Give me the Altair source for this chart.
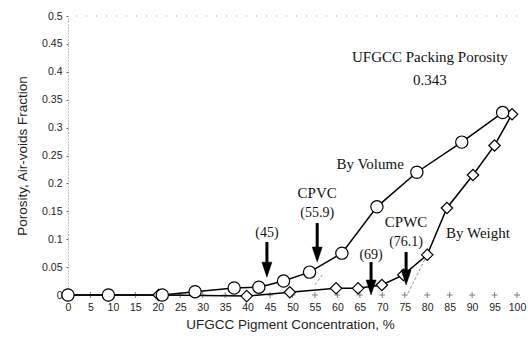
import altair as alt
import pandas as pd

# By Volume (circles)
vol_x = [0, 9, 21, 28.3, 37, 42.5, 48, 53.8, 61, 68.8, 77.7, 87.7, 96.8]
vol_y = [0, 0, 0, 0.006, 0.0125, 0.014, 0.025, 0.041, 0.075, 0.158, 0.22, 0.274, 0.327]
# By Weight (diamonds)
wt_x = [0, 9, 20.2, 39.8, 49.4, 59.7, 64.6, 69.9, 74.7, 80, 84.4, 90.2, 95, 98.9]
wt_y = [0, 0, 0, -0.002, 0.005, 0.012, 0.012, 0.018, 0.036, 0.072, 0.156, 0.215, 0.268, 0.324]

# arrows
arrow_x = [44.3, 55.5, 67.5, 75.3]
arrow_top = [0.095, 0.129, 0.059, 0.077]
arrow_tip = [0.032, 0.059, 0.0, 0.018]

# annotations
ann_text = ["UFGCC Packing Porosity", "0.343", "By Volume", "By Weight", "CPVC", "(55.9)",
            "(45)", "(69)", "CPWC", "(76.1)"]
ann_x = [80.6, 80.6, 67.3, 91.3, 55.5, 55.5, 44.3, 67.5, 75.3, 75.3]
ann_y = [0.4265, 0.385, 0.235, 0.111, 0.182, 0.147, 0.111, 0.072, 0.131, 0.095]
ann_size = [15, 15, 15, 15, 15, 14, 14, 14, 15, 14]

# faint tangent segments
tan_seg = ["a", "a", "b", "b"]
tan_x = [55, 56.6, 75.7, 80]
tan_y = [0.018, 0.036, 0.003, 0.072]

x_ticks = list(range(0, 101, 5))
y_ticks = [0, 0.05, 0.1, 0.15, 0.2, 0.25, 0.3, 0.35, 0.4, 0.45, 0.5]

vol = pd.DataFrame({"x": vol_x, "y": vol_y})
wt = pd.DataFrame({"x": wt_x, "y": wt_y})
arr = pd.DataFrame({"x": arrow_x, "top": arrow_top, "tip": arrow_tip})
arr["base"] = arr["tip"] + 0.022
ann = pd.DataFrame({"t": ann_text, "x": ann_x, "y": ann_y, "s": ann_size})
tan = pd.DataFrame({"seg": tan_seg, "x": tan_x, "y": tan_y})
ticks = pd.DataFrame({"x": x_ticks[1:], "y": [0] * (len(x_ticks) - 1)})

xs = alt.Scale(domain=[0, 100], nice=False, zero=False)
ys = alt.Scale(domain=[0, 0.5], nice=False, zero=False)

x_axis = alt.Axis(
    values=x_ticks, format="d", title="UFGCC Pigment Concentration, %",
    domain=False, ticks=False, grid=False, labelPadding=7, labelOverlap=False,
    labelFlush=False,
    labelFont="Liberation Sans", labelFontSize=10.5, labelColor="#222",
    titleFont="Liberation Sans", titleFontSize=13.5, titleFontWeight="normal",
    titleColor="#222", titleX=222, titleY=29, titleBaseline="middle")
y_axis = alt.Axis(
    values=y_ticks, format="~g", title="Porosity, Air-voids Fraction",
    domain=True, domainColor="#888", domainDash=[1, 2], domainWidth=1,
    ticks=True, tickSize=2, tickColor="#666", grid=False, labelPadding=4,
    labelOverlap=False, labelFlush=False,
    labelFont="Liberation Sans", labelFontSize=10.5, labelColor="#222",
    titleFont="Liberation Sans", titleFontSize=13.5, titleFontWeight="normal",
    titleColor="#222", titleAngle=-90, titleX=-46, titleY=139.5,
    titleAlign="center", titleBaseline="middle")


def X(f="x"):
    return alt.X(f + ":Q", scale=xs, axis=x_axis)


def Y(f="y"):
    return alt.Y(f + ":Q", scale=ys, axis=y_axis)


top_rule = alt.Chart(pd.DataFrame({"y": [0.5]})).mark_rule(
    color="#999", strokeDash=[1, 9], strokeWidth=1).encode(y=Y())

tan_line = alt.Chart(tan).mark_line(color="#777", strokeWidth=0.8, strokeDash=[3, 2]).encode(
    x=X(), y=Y(), detail="seg:N")

xcross = alt.Chart(ticks).mark_point(
    shape="M-1,0L1,0M0,-1L0,1", size=36, stroke="#222", strokeWidth=0.8, filled=False
).encode(x=X(), y=Y())

wt_line = alt.Chart(wt).mark_line(color="black", strokeWidth=1.5).encode(x=X(), y=Y())
vol_line = alt.Chart(vol).mark_line(color="black", strokeWidth=1.5).encode(x=X(), y=Y())
wt_pts = alt.Chart(wt).mark_point(shape="diamond", size=130, filled=True, fill="white",
                                  stroke="black", strokeWidth=1.2, opacity=1).encode(
    x=X(), y=Y())
vol_pts = alt.Chart(vol).mark_point(shape="circle", size=150, filled=True, fill="white",
                                    stroke="black", strokeWidth=1.2, opacity=1).encode(
    x=X(), y=Y())

shaft = alt.Chart(arr).mark_rule(color="black", strokeWidth=3).encode(
    x=X(), y=Y("top"), y2="base:Q")
head = alt.Chart(arr).mark_point(shape="M-1,-3L1,-3L0,0Z", size=100, filled=True,
                                 fill="black", stroke="black", strokeWidth=0.5, opacity=1).encode(
    x=X(), y=Y("tip"))

text = alt.Chart(ann).mark_text(font="Liberation Serif", color="#111", baseline="middle",
                                align="center").encode(
    x=X(), y=Y(), text="t:N",
    size=alt.Size("s:Q", scale=None, legend=None))

chart = alt.layer(
    wt_line, top_rule, tan_line, xcross, vol_line, wt_pts, vol_pts, shaft, head, text
).properties(
    width=449, height=279,
    autosize=alt.AutoSizeParams(type="none"),
    padding={"left": 68, "top": 16, "right": 11, "bottom": 44},
    background="white",
).configure_view(stroke=None)

chart.save("out.html", embed_options={"renderer": "svg", "actions": False})
